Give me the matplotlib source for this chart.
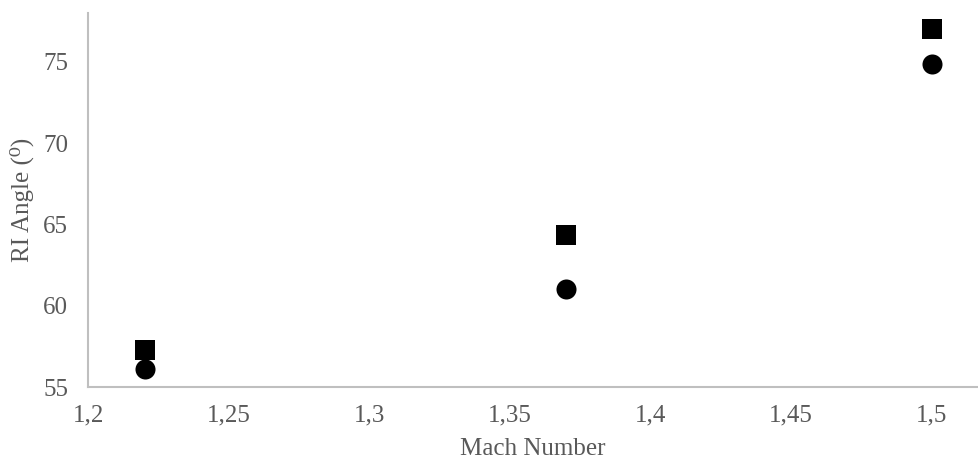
import matplotlib
matplotlib.use("Agg")
import matplotlib.pyplot as plt

# Reattachment angle vs Mach number for two methods
mach = [1.22, 1.37, 1.50]
angle_square = [57.25, 64.35, 77.0]
angle_circle = [56.1, 61.0, 74.85]

x_ticks = [1.2, 1.25, 1.3, 1.35, 1.4, 1.45, 1.5]
x_tick_labels = ["1,2", "1,25", "1,3", "1,35", "1,4", "1,45", "1,5"]
y_ticks = [55, 60, 65, 70, 75]

plt.rcParams['font.family'] = ['Liberation Serif', 'DejaVu Serif']
text_color = "#595959"
axis_color = "#bfbfbf"

W, H = 979, 461
fig = plt.figure(figsize=(W / 100, H / 100), dpi=100)
ax = fig.add_axes([88.5 / W, 1 - 387 / H, (978 - 88.5) / W, (387 - 13) / H])

ax.scatter(mach, angle_square, marker="s", s=19 ** 2 * 0.52, color="black", zorder=3, linewidths=0)
ax.scatter(mach, angle_circle, marker="o", s=20 ** 2 * 0.52, color="black", zorder=3, linewidths=0)

ax.set_xlim(1.2, 1.5165)
ax.set_ylim(55, 78)
ax.set_xticks(x_ticks)
ax.set_xticklabels(x_tick_labels)
ax.set_yticks(y_ticks)

for side in ["top", "right"]:
    ax.spines[side].set_visible(False)
for side in ["left", "bottom"]:
    ax.spines[side].set_color(axis_color)
    ax.spines[side].set_linewidth(1.5)

ax.tick_params(axis="both", length=0, labelsize=18, colors=text_color)
ax.tick_params(axis="x", pad=12.5)
ax.tick_params(axis="y", pad=14.5)

ax.set_xlabel("Mach Number", fontsize=18, color=text_color, labelpad=8.5)
ax.set_ylabel("RI Angle (⁰)", fontsize=18, color=text_color, labelpad=6.5)

fig.savefig("out.png", dpi=100)
